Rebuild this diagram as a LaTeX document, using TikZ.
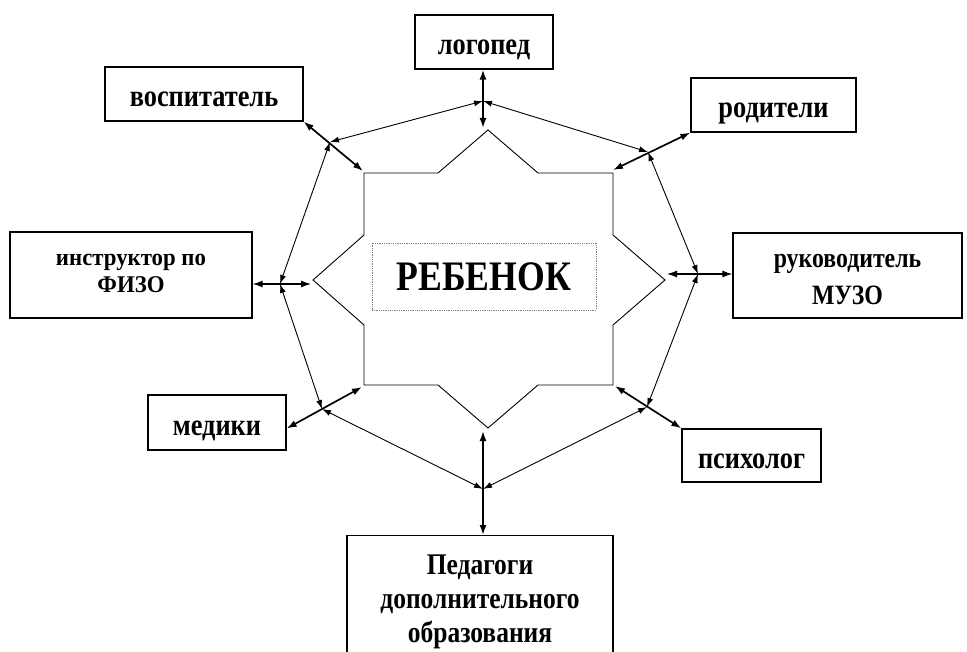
\documentclass[tikz,border=0pt]{standalone}
\usepackage{fontspec}
\setmainfont{Liberation Serif}[FakeStretch=0.85]
\newfontfamily\widefont{Liberation Serif}[FakeStretch=0.95]
\usetikzlibrary{arrows.meta}
\tikzset{
  lbl/.style={draw=black, line width=1.3pt, fill=white, inner sep=0pt, align=center, font=\bfseries},
  big/.style={font=\fontsize{31}{34}\selectfont\bfseries, text height=26pt, text depth=0pt},
  ring/.style={line width=0.9pt, {Latex[length=9pt,width=6pt]}-{Latex[length=9pt,width=6pt]}},
  spoke/.style={line width=1.7pt, {Latex[length=10pt,width=7pt]}-{Latex[length=10pt,width=7pt]}},
  hspoke/.style={spoke, line width=1.2pt},
  starline/.style={line width=0.9pt, line join=miter}
}
\begin{document}
\begin{tikzpicture}[x=1pt,y=-1pt]
\useasboundingbox (0,0) rectangle (967,652);
\fill[white] (0,0) rectangle (967,652);
\clip (0,0) rectangle (967,652);

% boxes
\node[lbl, big, minimum width=138, minimum height=54] (logo) at (484,42) {логопед};
\node[lbl, big, minimum width=198, minimum height=54] (vosp) at (204,94) {воспитатель};
\node[lbl, big, minimum width=165, minimum height=54] (rodit) at (773.5,105) {родители};
\node[lbl, minimum width=242, minimum height=86, text height=36pt, text depth=0pt,
  font=\fontsize{24}{27}\widefont\bfseries] (fizo) at (131,275) {инструктор по\\ФИЗО};
\node[lbl, minimum width=229, minimum height=85, text height=59pt, text depth=0pt,
  font=\fontsize{28}{37}\selectfont\bfseries] (muzo) at (847.5,275.5) {руководитель\\МУЗО};
\node[lbl, big, minimum width=138, minimum height=55] (medik) at (217,422.5) {медики};
\node[lbl, big, minimum width=139, minimum height=53] (psych) at (751.5,455.5) {психолог};
\node[lbl, anchor=north, minimum width=266, minimum height=134, text height=80pt, text depth=0pt,
  font=\fontsize{30}{34}\selectfont\bfseries] (ped) at (480,535) {Педагоги\\дополнительного\\образования};

% central star
\draw[starline] (488,130) -- (538,173) -- (613,173) -- (613,235) -- (665,280) -- (613,325)
  -- (613,385) -- (538,385) -- (488,428) -- (438,385) -- (364,385) -- (364,325)
  -- (313,280) -- (364,235) -- (364,173) -- (438,173) -- cycle;
\node[draw=gray, densely dotted, line width=0.8pt, minimum width=224, minimum height=67, inner sep=0pt,
  font=\fontsize{42}{44}\selectfont\bfseries] (child) at (484,276.5) {РЕБЕНОК};

% junctions and spoke ends
\coordinate (JT) at (483,101);
\coordinate (JTL) at (330,142);
\coordinate (JTR) at (648,152);
\coordinate (JL) at (280,284);
\coordinate (JR) at (698,274);
\coordinate (JBL) at (322,409);
\coordinate (JBR) at (647,407);
\coordinate (JB) at (483,489);
\coordinate (aT) at (483,128);
\coordinate (aTL) at (363,171);
\coordinate (aTR) at (613,170);
\coordinate (aL) at (311,284);
\coordinate (aR) at (667,274);
\coordinate (aBL) at (362,387);
\coordinate (aBR) at (615,386);
\coordinate (aB) at (483,431);

% spokes
\draw[spoke] (logo.south -| aT) -- (aT);
\draw[spoke] (vosp.south east) -- (aTL);
\draw[spoke] (rodit.south west) -- (aTR);
\draw[hspoke] (fizo.east |- JL) -- (aL);
\draw[hspoke] (aR) -- (muzo.west |- JR);
\draw[spoke] ([yshift=-6pt]medik.east) -- (aBL);
\draw[spoke] (aBR) -- (psych.north west);
\draw[spoke] (aB) -- (ped.north -| aB);

% ring
\draw[ring] (JT) -- (JTL);
\draw[ring] (JT) -- (JTR);
\draw[ring] (JTL) -- (JL);
\draw[ring] (JTR) -- (JR);
\draw[ring] (JL) -- (JBL);
\draw[ring] (JR) -- (JBR);
\draw[ring] (JBL) -- (JB);
\draw[ring] (JBR) -- (JB);
\end{tikzpicture}
\end{document}
